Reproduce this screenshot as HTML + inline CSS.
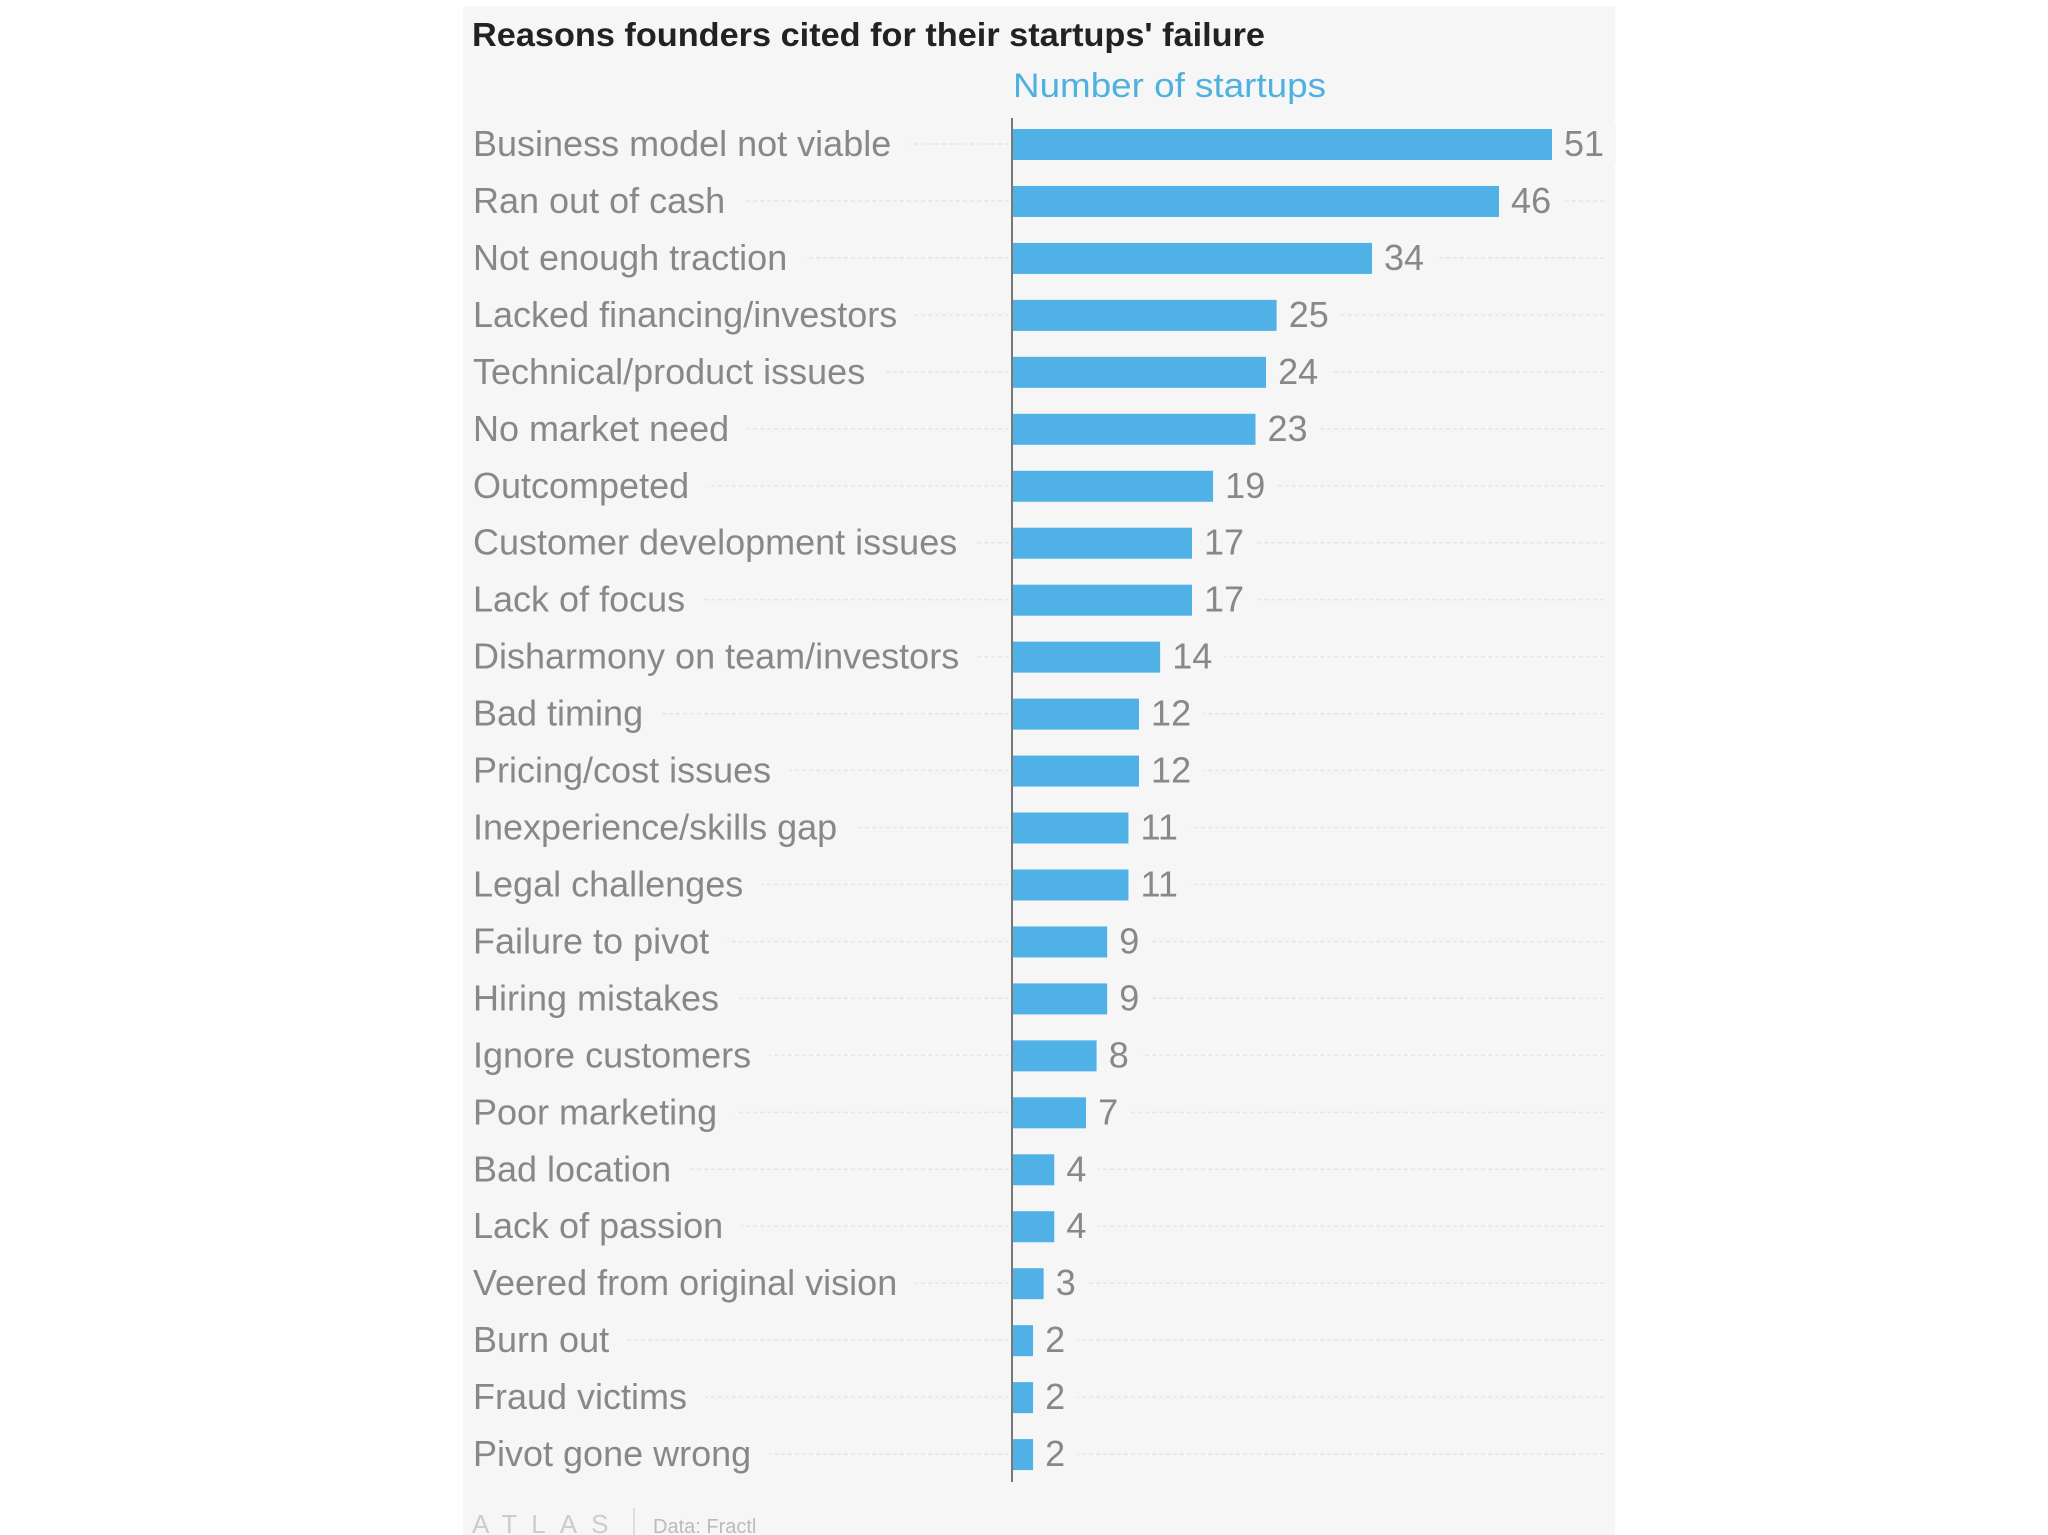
<!DOCTYPE html>
<html><head><meta charset="utf-8"><style>
html,body{margin:0;padding:0;background:#fff;}
svg{display:block;font-family:"Liberation Sans",sans-serif;}
</style></head><body>
<svg width="2048" height="1535" viewBox="0 0 2048 1535">
<rect x="463" y="6" width="1152" height="1529" fill="#f6f6f6"/>
<text x="472" y="46" font-size="33" font-weight="bold" fill="#222" textLength="793" lengthAdjust="spacingAndGlyphs">Reasons founders cited for their startups' failure</text>
<text x="1013" y="97" font-size="34" fill="#4fb1e0" textLength="313" lengthAdjust="spacingAndGlyphs">Number of startups</text>
<g id="rows"></g>
<line x1="1012" y1="118" x2="1012" y2="1482" stroke="#777" stroke-width="2"/>
<text x="472" y="1533" font-size="26" fill="#ccc" letter-spacing="14">ATLAS</text>
<line x1="634" y1="1508" x2="634" y2="1535" stroke="#ddd" stroke-width="2"/>
<text x="653" y="1533" font-size="20" fill="#bbb">Data: Fractl</text>
</svg>
<script>
const categories=["Business model not viable","Ran out of cash","Not enough traction","Lacked financing/investors","Technical/product issues","No market need","Outcompeted","Customer development issues","Lack of focus","Disharmony on team/investors","Bad timing","Pricing/cost issues","Inexperience/skills gap","Legal challenges","Failure to pivot","Hiring mistakes","Ignore customers","Poor marketing","Bad location","Lack of passion","Veered from original vision","Burn out","Fraud victims","Pivot gone wrong"];
const values=[51,46,34,25,24,23,19,17,17,14,12,12,11,11,9,9,8,7,4,4,3,2,2,2];
const NS="http://www.w3.org/2000/svg";
const g=document.getElementById('rows');
const x0=1012, unit=(1552-1012)/51;
function xs(v){return x0+v*unit;}
function ys(i){return 144+i*56.96;}
function mk(t,a){const e=document.createElementNS(NS,t);for(const k in a)e.setAttribute(k,a[k]);g.appendChild(e);return e;}
categories.forEach((c,i)=>{
  const y=ys(i), v=values[i];
  const gl=mk('line',{x1:473,x2:1605,y1:y,y2:y,stroke:'#e6e6e6','stroke-width':1.5,'stroke-dasharray':'4 3'});
  
  
  const lbl=mk('text',{x:473,y:y+12,'font-size':36,fill:'#888'});
  lbl.textContent=c;
  
  
  const bb=lbl.getBBox();
  const bg=mk('rect',{x:bb.x-2,y:y-20,width:bb.width+20,height:40,fill:'#f6f6f6'});
  g.insertBefore(bg,lbl);
  
  
  const bar=mk('rect',{x:x0,y:y-15,width:xs(v)-x0,height:31,fill:'#4fb1e6'});
  
  
  const vb=mk('rect',{x:xs(v),y:y-20,width:60,height:40,fill:'#f6f6f6'});
  
  
  const vt=mk('text',{x:xs(v)+12,y:y+12,'font-size':36,fill:'#888'});
  vt.textContent=v;
  
  
  const vw=vt.getBBox().width; vb.setAttribute('width',vw+24);
});
</script>
</body></html>
